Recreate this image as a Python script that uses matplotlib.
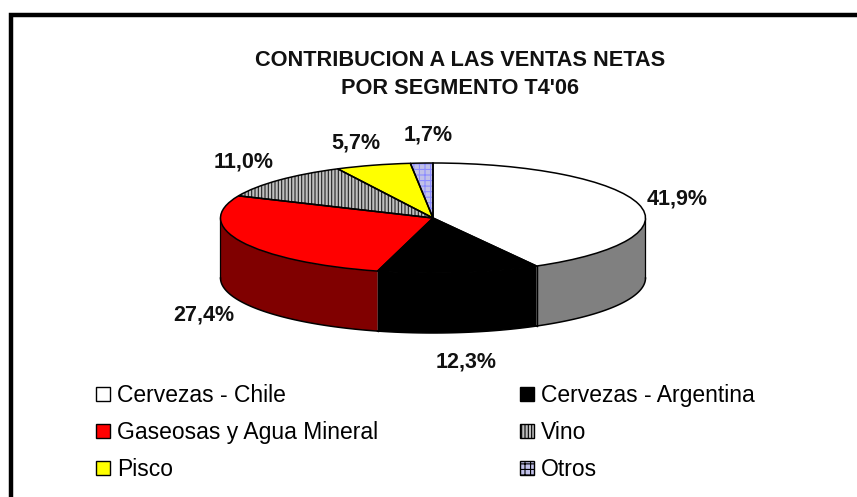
import numpy as np
import matplotlib
matplotlib.use("Agg")
import matplotlib.pyplot as plt
from matplotlib.lines import Line2D
from matplotlib.patches import Patch

# === Donnees ===
segmentos = ["Cervezas - Chile", "Cervezas - Argentina", "Gaseosas y Agua Mineral",
             "Vino", "Pisco", "Otros"]
ventas = [41.9, 12.3, 27.4, 11.0, 5.7, 1.7]
etiquetas = ["41,9%", "12,3%", "27,4%", "11,0%", "5,7%", "1,7%"]
colores = ["#ffffff", "#000000", "#ff0000", "#c0c0c0", "#ffff00", "#c0c0e8"]
colores_lado = ["#808080", "#000000", "#800000", "#808080", "#808000", "#6060a0"]
hatches = [None, None, None, "|||||", None, "+++"]
color_hatch = ["k", "k", "r", "#222222", "y", "#8c8cff"]

W, H = 857, 497
CX, CY, RX, RY, PROF = 433, 218, 212.5, 55, 60

plt.rcParams['font.family'] = ['Liberation Sans', 'DejaVu Sans']
plt.rcParams['hatch.linewidth'] = 0.8

fig = plt.figure(figsize=(W / 100, H / 100), dpi=100)
ax = fig.add_axes([0, 0, 1, 1])


def px(x, y):
    return x / W, 1 - y / H


# === Camembert (ellipse = pie dans des axes non egaux) ===
wedges, _ = ax.pie(ventas, colors=colores, startangle=90, counterclock=False, radius=1,
                   wedgeprops={'linewidth': 0}, normalize=True)
for w, h, c in zip(wedges, hatches, color_hatch):
    w.set_zorder(3)
    if h:
        w.set_hatch(h)
        w.set_edgecolor(c)
contour, _ = ax.pie(ventas, colors=colores, startangle=90, counterclock=False, radius=1,
                    wedgeprops={'linewidth': 1.1, 'edgecolor': 'black', 'fill': False},
                    normalize=True)
for w in contour:
    w.set_zorder(4)

ax.set_aspect('auto')
ax.set_xlim(-CX / RX, (W - CX) / RX)
ax.set_ylim((CY - H) / RY, CY / RY)
ax.axis('off')

# === Cote du cylindre ===
prof = PROF / RY
bornes = np.cumsum([0] + ventas) / sum(ventas) * 360
for i, c in enumerate(colores_lado):
    a0, a1 = max(bornes[i], 90), min(bornes[i + 1], 270)
    if a1 <= a0:
        continue
    t = np.radians(np.linspace(a0, a1, 80))
    x = np.sin(t)
    y = np.cos(t)
    ax.fill_between(x, y, y - prof, facecolor=c, edgecolor='none', zorder=1)
    ax.plot(x, y - prof, color='k', lw=1.1, zorder=2)
    ax.plot([x[0], x[0]], [y[0], y[0] - prof], color='k', lw=0.9, zorder=2)
    ax.plot([x[-1], x[-1]], [y[-1], y[-1] - prof], color='k', lw=0.9, zorder=2)

# === Cadre ===
fig.add_artist(Line2D([10.5 / W, 10.5 / W, 1], [0, 1 - 15 / H, 1 - 15 / H], color='k', lw=3.2,
                      solid_joinstyle='miter'))

# === Textes ===
fig.text(*px(460, 60), "CONTRIBUCION A LAS VENTAS NETAS", ha='center', va='center',
         fontsize=15.7, fontweight='bold', color='#111111')
fig.text(*px(460, 88.5), "POR SEGMENTO T4'06", ha='center', va='center',
         fontsize=15.7, fontweight='bold', color='#111111')

pos_etiquetas = [(677, 198.5), (466, 362), (204, 315), (244, 161.5), (356, 143), (428, 135)]
for e, (x, y) in zip(etiquetas, pos_etiquetas):
    fig.text(*px(x, y), e, ha='center', va='center', fontsize=15.5, fontweight='bold',
             color='#111111')

# === Legende ===
ordre = [0, 2, 4, 1, 3, 5]
poignees = [Patch(facecolor=colores[i], edgecolor='k', hatch=hatches[i], linewidth=1.0)
            for i in ordre]
fig.legend(poignees, [segmentos[i] for i in ordre], ncol=2, frameon=False,
           loc='upper left', bbox_to_anchor=px(87, 375), fontsize=16.5,
           handlelength=0.6, handleheight=0.6, handletextpad=0.3,
           columnspacing=6.22, labelspacing=0.61, borderpad=0.4, borderaxespad=0)

fig.savefig("out.png", dpi=100)
